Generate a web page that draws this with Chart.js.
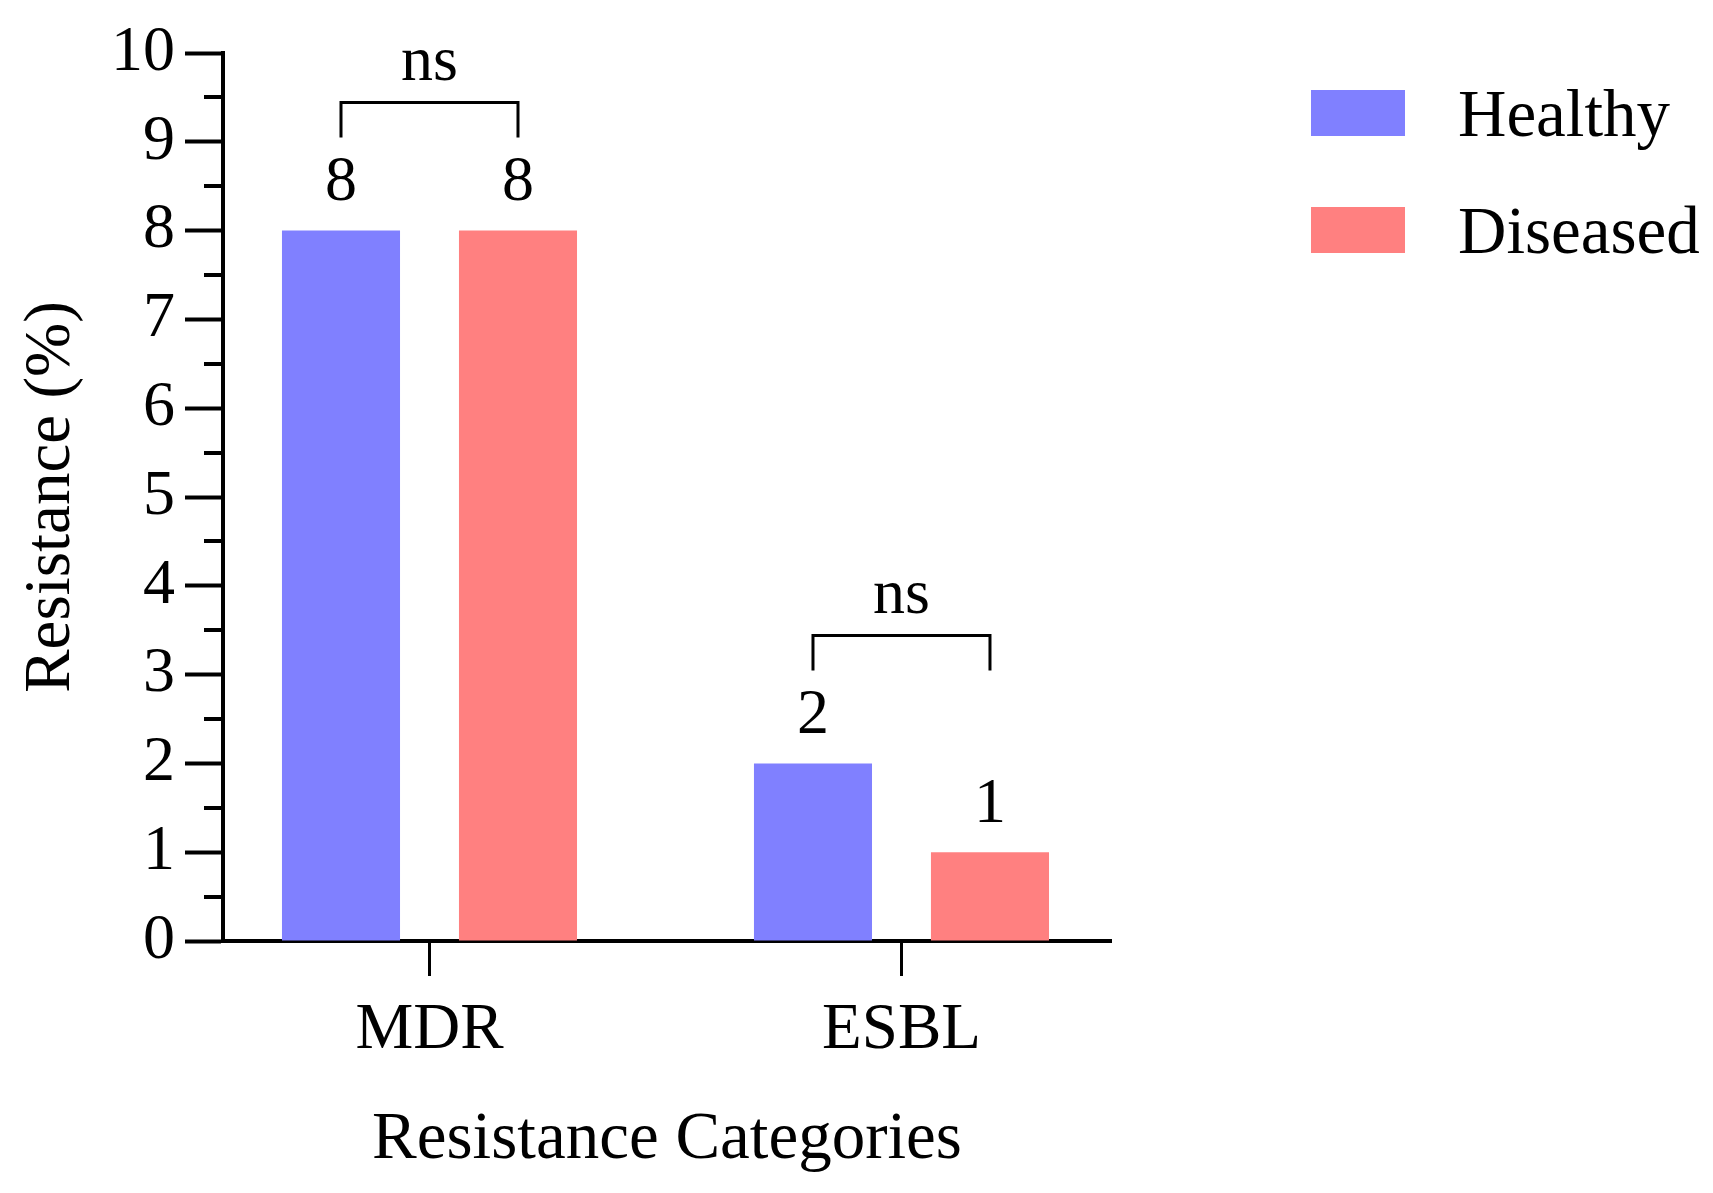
<!DOCTYPE html>
<html>
<head>
<meta charset="utf-8">
<script src="https://cdn.jsdelivr.net/npm/chart.js@4/dist/chart.umd.min.js"></script>
<style>
  html, body { margin: 0; padding: 0; background: #fff; }
  #wrap { position: relative; width: 1713px; height: 1193px; }
  #chart { position: absolute; left: 0; top: 0; }
  .legend-item { position: absolute; left: 1311px; height: 46px; display: flex; align-items: center;
    font-family: 'Liberation Serif', serif; font-size: 67px; color: #000; white-space: nowrap; }
  .legend-item .swatch { width: 94px; height: 46px; margin-right: 53px; }
</style>
</head>
<body>
<div id="wrap">
  <canvas id="chart" width="1713" height="1193"></canvas>
  <div id="legend"></div>
</div>
<script>
const categories = ['MDR', 'ESBL'];
const seriesNames = ['Healthy', 'Diseased'];
const healthyValues = [8, 2];
const diseasedValues = [8, 1];
const significance = ['ns', 'ns'];
const yTickValues = [0, 1, 2, 3, 4, 5, 6, 7, 8, 9, 10];
const seriesColors = ['#8080ff', '#ff8080'];

const FONT = "'Liberation Serif', serif";
Chart.defaults.font.family = FONT;
Chart.defaults.color = '#000';

// half-step ticks on the y axis (Prism style)
const minorTicks = {
    id: 'minorTicks',
    afterDraw(chart) {
        const { ctx, chartArea, scales: { y } } = chart;
        ctx.save();
        ctx.strokeStyle = '#000';
        ctx.lineWidth = 4;
        for (let i = 0; i < yTickValues.length - 1; i++) {
            const py = Math.round(y.getPixelForValue(yTickValues[i] + 0.5));
            ctx.beginPath();
            ctx.moveTo(chartArea.left - 19, py);
            ctx.lineTo(chartArea.left, py);
            ctx.stroke();
        }
        ctx.restore();
    }
};

// value labels + "ns" brackets
const annotations = {
    id: 'annotations',
    afterDatasetsDraw(chart) {
        const { ctx } = chart;
        const m0 = chart.getDatasetMeta(0).data;
        const m1 = chart.getDatasetMeta(1).data;
        ctx.save();
        ctx.fillStyle = '#000';
        ctx.strokeStyle = '#000';
        ctx.lineWidth = 3;
        ctx.font = `64px ${FONT}`;
        ctx.textAlign = 'center';
        ctx.textBaseline = 'middle';
        categories.forEach((cat, i) => {
            const a = m0[i], b = m1[i];
            ctx.fillText(String(healthyValues[i]), a.x, a.y - 47);
            ctx.fillText(String(diseasedValues[i]), b.x, b.y - 47);
            const top = Math.min(a.y, b.y);
            const yTop = top - 128, yBot = top - 93;
            ctx.beginPath();
            ctx.moveTo(a.x, yBot);
            ctx.lineTo(a.x, yTop);
            ctx.lineTo(b.x, yTop);
            ctx.lineTo(b.x, yBot);
            ctx.stroke();
            ctx.fillText(significance[i], (a.x + b.x) / 2, yTop - 39);
        });
        ctx.restore();
    }
};

const datasets = [healthyValues, diseasedValues].map((vals, s) => ({
    label: seriesNames[s],
    data: vals.map((v, i) => ({ x: i, y: v })),
    backgroundColor: seriesColors[s],
    borderWidth: 0,
    categoryPercentage: 0.75,
    barPercentage: 0.667
}));

new Chart(document.getElementById('chart'), {
    type: 'bar',
    data: { datasets },
    options: {
        responsive: false,
        animation: false,
        devicePixelRatio: 1,
        layout: { padding: { top: 53, right: 602, bottom: 0, left: 0 } },
        plugins: {
            legend: { display: false },
            tooltip: { enabled: false }
        },
        scales: {
            x: {
                type: 'linear',
                offset: false,
                min: -0.4375,
                max: 1.4439,
                afterBuildTicks: scale => {
                    scale.ticks = categories.map((c, i) => ({ value: i }));
                },
                afterFit: scale => { scale.height = 252; },
                grid: {
                    display: true,
                    offset: false,
                    drawOnChartArea: false,
                    drawTicks: true,
                    tickLength: 35,
                    tickWidth: 3,
                    tickColor: '#000'
                },
                border: { display: true, color: '#000', width: 4 },
                ticks: {
                    padding: 16,
                    font: { size: 65 },
                    color: '#000',
                    maxRotation: 0,
                    callback: value => categories[value] ?? ''
                },
                title: {
                    display: true,
                    text: 'Resistance Categories',
                    font: { size: 67 },
                    color: '#000',
                    padding: { top: 0, bottom: 12 }
                }
            },
            y: {
                min: 0,
                max: 10,
                afterBuildTicks: scale => {
                    scale.ticks = yTickValues.map(v => ({ value: v }));
                },
                afterFit: scale => { scale.width = 223; },
                grid: {
                    display: true,
                    drawOnChartArea: false,
                    drawTicks: true,
                    tickLength: 38,
                    tickWidth: 4,
                    tickColor: '#000'
                },
                border: { display: true, color: '#000', width: 4 },
                ticks: {
                    padding: 10,
                    font: { size: 64 },
                    color: '#000'
                },
                title: {
                    display: true,
                    text: 'Resistance (%)',
                    font: { size: 65 },
                    color: '#000',
                    padding: { top: 13, bottom: 0 }
                }
            }
        }
    },
    plugins: [minorTicks, annotations]
});

// legend drawn as html so the box/text gap matches the figure
const legendEl = document.getElementById('legend');
seriesNames.forEach((name, i) => {
    const item = document.createElement('div');
    item.className = 'legend-item';
    item.style.top = (90 + i * 117) + 'px';
    const sw = document.createElement('span');
    sw.className = 'swatch';
    sw.style.background = seriesColors[i];
    const txt = document.createElement('span');
    txt.textContent = name;
    item.appendChild(sw);
    item.appendChild(txt);
    legendEl.appendChild(item);
});
</script>
</body>
</html>
